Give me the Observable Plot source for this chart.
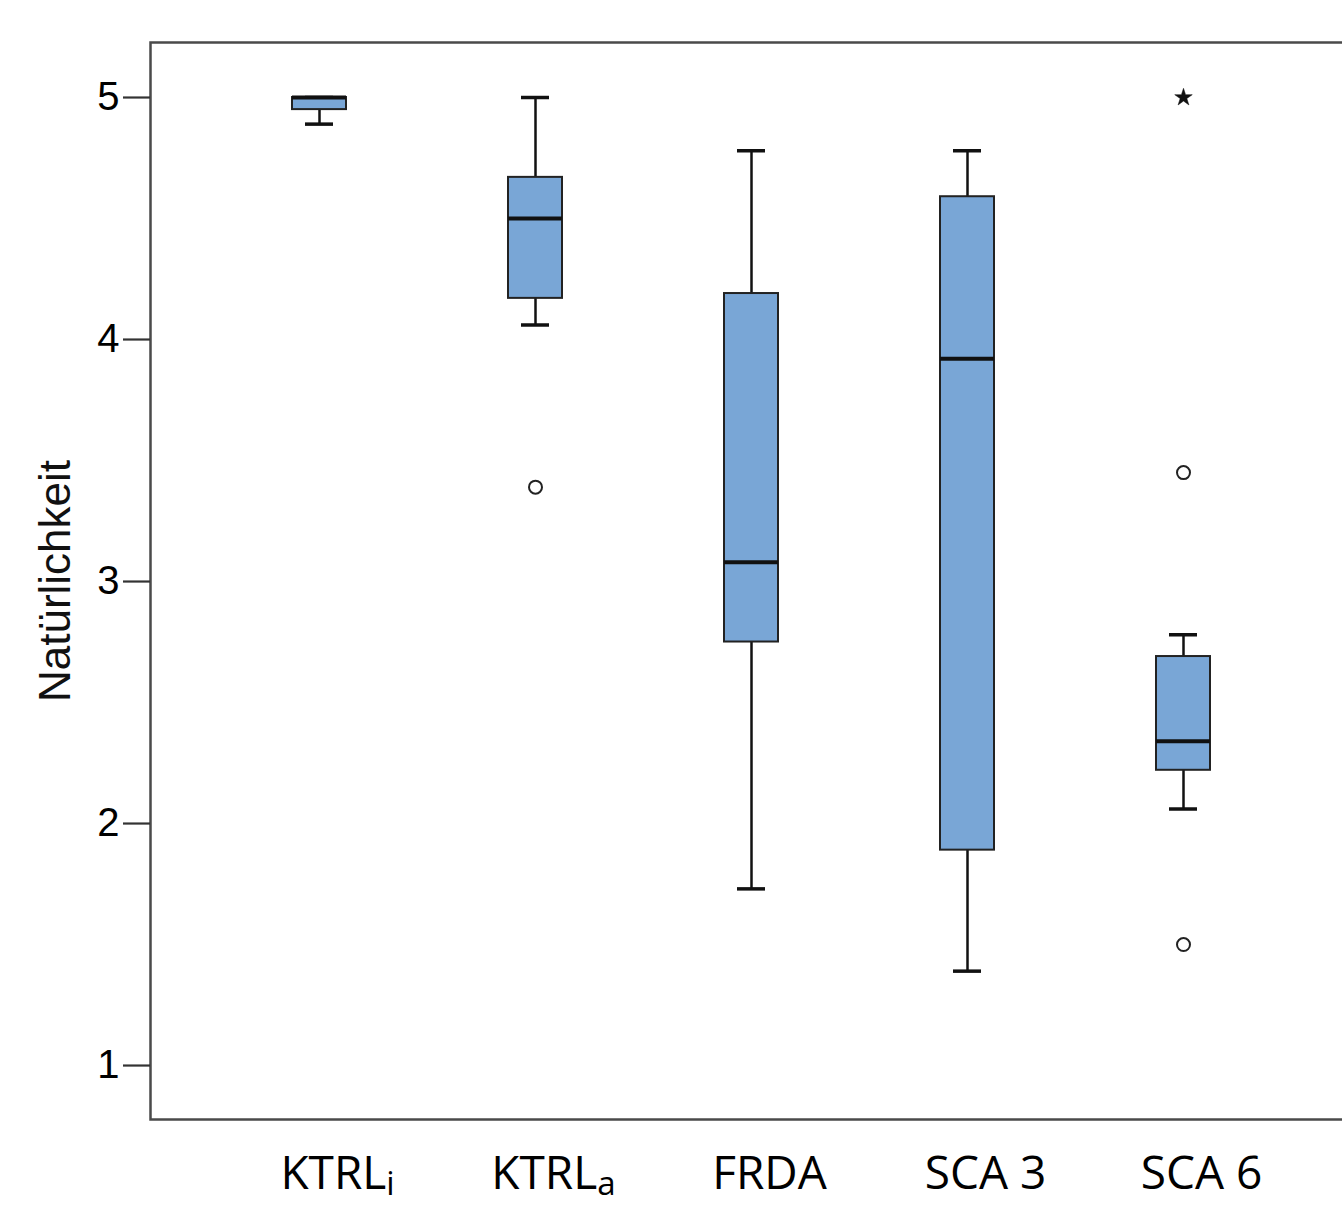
<!DOCTYPE html>
<html>
<head>
<meta charset="utf-8">
<script src="https://cdn.jsdelivr.net/npm/d3@7"></script>
<script src="https://cdn.jsdelivr.net/npm/@observablehq/plot@0.6"></script>
<style>
  html, body { margin: 0; padding: 0; background: white; overflow: hidden; }
  #chart svg { overflow: hidden; display: block; }
</style>
</head>
<body>
<div id="chart"></div>
<script>
// Categories (KTRL with subscript i / a)
const categories = ["KTRLi", "KTRLa", "FRDA", "SCA 3", "SCA 6"];
// Box-plot statistics
const lowWhisker  = [4.89, 4.06, 1.73, 1.39, 2.06];
const q1          = [4.95, 4.17, 2.75, 1.89, 2.22];
const median      = [5.00, 4.50, 3.08, 3.92, 2.34];
const q3          = [5.00, 4.67, 4.19, 4.59, 2.69];
const highWhisker = [5.00, 5.00, 4.78, 4.78, 2.78];
// Outliers (circles) and extreme values (stars)
const outlierGroups = ["KTRLa", "SCA 6", "SCA 6"];
const outlierValues = [3.39, 3.45, 1.50];
const extremeGroups = ["SCA 6"];
const extremeValues = [5.00];
const yTicks = [1, 2, 3, 4, 5];
const yLabel = "Natürlichkeit";

const boxes = categories.map((c, i) => ({
  group: c, lo: lowWhisker[i], q1: q1[i], med: median[i], q3: q3[i], hi: highWhisker[i]
}));
const outliers = outlierGroups.map((g, i) => ({group: g, value: outlierValues[i]}));
const extremes = extremeGroups.map((g, i) => ({group: g, value: extremeValues[i]}));

const boxFill = "#79a6d6";
const ink = "#111";

const chart = Plot.plot({
  width: 1342,
  height: 1207,
  marginLeft: 150,
  marginRight: -10,
  marginTop: 42,
  marginBottom: 88,
  style: {background: "white", overflow: "hidden"},
  x: {type: "band", domain: categories, paddingInner: 0.75, paddingOuter: 0.651},
  y: {domain: [0.777, 5.2273]},
  marks: [
    // whiskers
    Plot.ruleX(boxes, {x: "group", y1: "lo", y2: "q1", stroke: ink, strokeWidth: 2.5}),
    Plot.ruleX(boxes, {x: "group", y1: "q3", y2: "hi", stroke: ink, strokeWidth: 2.5}),
    Plot.tickY(boxes, {x: "group", y: "lo", stroke: ink, strokeWidth: 3.5, insetLeft: 13, insetRight: 13}),
    Plot.tickY(boxes, {x: "group", y: "hi", stroke: ink, strokeWidth: 3.5, insetLeft: 13, insetRight: 13}),
    // boxes
    Plot.barY(boxes, {x: "group", y1: "q1", y2: "q3", fill: boxFill, stroke: "#222", strokeWidth: 2}),
    // medians
    Plot.tickY(boxes, {x: "group", y: "med", stroke: ink, strokeWidth: 4}),
    // outliers
    Plot.dot(outliers, {x: "group", y: "value", r: 6.5, stroke: "#222", strokeWidth: 2, fill: "white"}),
    Plot.dot(extremes, {x: "group", y: "value", symbol: "star", r: 5.5, fill: ink, stroke: ink, strokeWidth: 0.5}),
    // frame
    Plot.frame({stroke: "#4a4a4a", strokeWidth: 2.5}),
    // axes
    Plot.axisY({
      ticks: yTicks, tickFormat: d3.format("d"), tickSize: 27, tickPadding: 4,
      stroke: "#333", strokeWidth: 2.2,
      fontSize: 40, fontFamily: "Liberation Sans, Arial, sans-serif", label: null
    }),
    Plot.axisX({
      tickSize: 0, tickPadding: 37, fontSize: 46, fontFamily: "Open Sans, sans-serif",
      label: null, dx: 18
    }),
    Plot.text([yLabel], {
      text: d => d, frameAnchor: "left", rotate: -90, dx: -95,
      fontSize: 44, fontFamily: "Liberation Sans, Arial, sans-serif", fill: "#111",
      textAnchor: "middle", lineAnchor: "middle"
    })
  ]
});

// subscripts for KTRL_i and KTRL_a
d3.select(chart).selectAll("text").each(function() {
  const t = d3.select(this);
  if (t.selectAll("tspan").size() > 0) return;
  const s = t.text();
  const m = /^KTRL([ia])$/.exec(s);
  if (m) {
    t.text("KTRL");
    t.append("tspan").attr("font-size", "0.72em").attr("dy", "0.18em").text(m[1]);
  }
});

document.getElementById("chart").appendChild(chart);
</script>
</body>
</html>
